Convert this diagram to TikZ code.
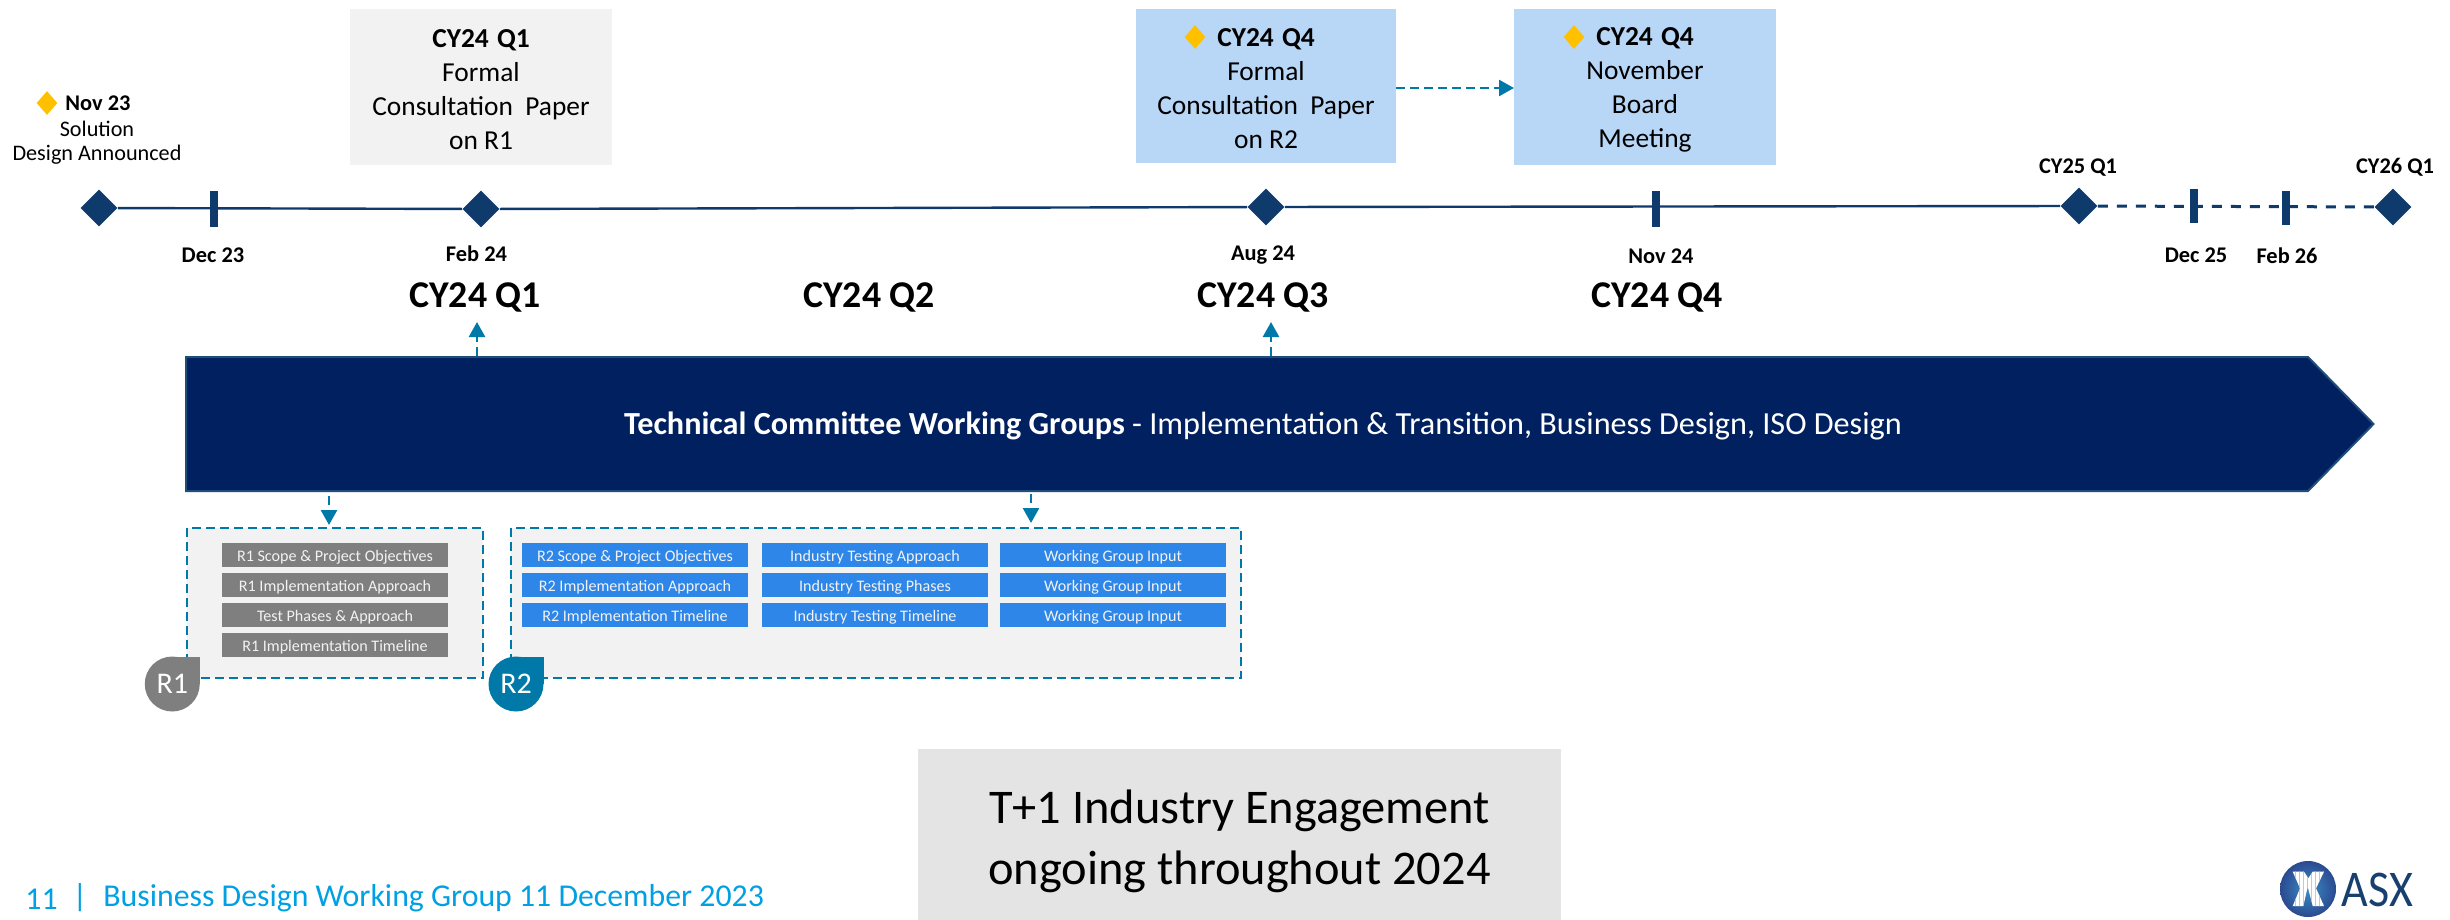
\documentclass[tikz,border=0pt]{standalone}
\usepackage{fontspec}
\setmainfont{Carlito}
\usetikzlibrary{arrows.meta,shapes.geometric}
\definecolor{navy}{HTML}{0F3A6C}
\definecolor{barblue}{HTML}{002060}
\definecolor{barline}{HTML}{1F4E79}
\definecolor{teal}{HTML}{0079A8}
\definecolor{gold}{HTML}{FFC000}
\definecolor{panel}{HTML}{F2F2F2}
\definecolor{lightblue}{HTML}{B8D6F6}
\definecolor{itemgrey}{HTML}{7F7F7F}
\definecolor{itemblue}{HTML}{2E86E8}
\definecolor{footblue}{HTML}{00A0E3}
\definecolor{engage}{HTML}{E4E4E4}
\definecolor{logotext}{HTML}{17406F}
\definecolor{logostripe}{HTML}{B5CBE8}
\definecolor{logoin}{HTML}{3B8CC4}
\definecolor{logoout}{HTML}{2B4A90}
\newcommand{\fs}[1]{\fontsize{#1}{#1}\selectfont}
\newcommand{\fsl}[2]{\fontsize{#1}{#2}\selectfont}
% \pxbox[style]{name}{x0}{y0}{x1}{y1}{text}
\newcommand{\pxbox}[7][]{%
  \pgfmathsetmacro{\pxcx}{(#3+#5)/2}%
  \pgfmathsetmacro{\pxcy}{(#4+#6)/2}%
  \pgfmathsetmacro{\pxw}{(#5-#3)*0.5}%
  \pgfmathsetmacro{\pxh}{(#6-#4)*0.5}%
  \node[#1,minimum width=\pxw pt,minimum height=\pxh pt] (#2) at (\pxcx,\pxcy) {#7};}
\newcommand{\firstline}[1]{\rule{0pt}{11.4pt}\textbf{#1}}
\tikzset{
  bigdiamond/.style={diamond,aspect=1,fill=navy,inner sep=0pt,minimum width=18.5pt,minimum height=18.5pt},
  golddiamond/.style={diamond,fill=gold,inner sep=0pt,shape aspect=0.875,minimum width=10.5pt,minimum height=12pt},
  tickmark/.style={fill=navy,inner sep=0pt},
  datelabel/.style={font=\bfseries\fs{11.2},inner sep=0pt,yshift=-0.7pt},
  quarterlabel/.style={font=\bfseries\fs{18.9},inner sep=0pt,yshift=-0.7pt},
  paperbox/.style={inner sep=0pt,align=center,font=\fsl{13.7}{17}},
  panelbox/.style={fill=panel,draw=teal,line width=1.25pt,dash pattern=on 4.5pt off 2.5pt,inner sep=0pt},
  itembox/.style={inner sep=0pt,text=panel,font=\fs{8.05},text height=7pt,text depth=0.8pt},
  greyitem/.style={itembox,fill=itemgrey},
  blueitem/.style={itembox,fill=itemblue},
  conn/.style={draw=teal,line width=1.25pt,dash pattern=on 4.5pt off 2.5pt,-{Triangle[length=7.5pt,width=8pt,fill=teal]}},
  dropbadge/.style={circle,inner sep=0pt,minimum size=27.5pt,text=white,font=\fs{15}},
}
\begin{document}
\begin{tikzpicture}[x=0.5pt,y=-0.5pt]
\useasboundingbox (0,0) rectangle (2450,920);

% timeline
\node[bigdiamond] (d1) at (99,208) {};
\node[bigdiamond] (d2) at (481,209) {};
\node[bigdiamond] (d3) at (1266,207) {};
\node[bigdiamond] (d4) at (2079,206) {};
\node[bigdiamond] (d5) at (2393,207) {};
\draw[navy,line width=1.2pt] (d1) -- (d2);
\draw[navy,line width=1.2pt] (d2) -- (d3);
\draw[navy,line width=1.2pt] (d3) -- (d4);
\draw[navy,line width=1.5pt,dash pattern=on 5pt off 4.5pt] (d4) -- (d5);
\pxbox[tickmark]{t1}{210}{191}{218}{227}{}
\pxbox[tickmark]{t2}{1652}{191}{1660}{227}{}
\pxbox[tickmark]{t3}{2190}{189}{2198}{223}{}
\pxbox[tickmark]{t4}{2282}{191}{2290}{225}{}

% date labels
\node[datelabel] (l1) at (213,254) {Dec 23};
\node[datelabel] (l2) at (476.5,252) {Feb 24};
\node[datelabel] (l3) at (1263,254) {Aug 24};
\node[datelabel] (l4) at (1661,255) {Nov 24};
\node[datelabel] (l5) at (2196,254) {Dec 25};
\node[datelabel] (l6) at (2287,254) {Feb 26};
\node[datelabel] (l7) at (2078,166) {CY25 Q1};
\node[datelabel] (l8) at (2395,166) {CY26 Q1};

% Nov 23
\node[golddiamond] (g0) at (47,103) {};
\node[datelabel,anchor=west,yshift=0.7pt] (n0) at (65,103) {Nov 23};
\node[inner sep=0pt,font=\fs{11.1}] (n1) at (97,129) {Solution};
\node[inner sep=0pt,font=\fs{11.1}] (n2) at (97,155) {Design Announced};

% quarter labels
\node[quarterlabel] (q1) at (475,296) {CY24 Q1};
\node[quarterlabel] (q2) at (869,296) {CY24 Q2};
\node[quarterlabel] (q3) at (1263,296) {CY24 Q3};
\node[quarterlabel] (q4) at (1657,296) {CY24 Q4};

% top boxes
\pxbox[paperbox,fill=panel]{b1}{350}{9}{612}{165}{\firstline{CY24\kern1pt\ Q1}\\Formal\\Consultation\ \ Paper\\on R1}
\pxbox[paperbox,fill=lightblue]{b2}{1136}{9}{1396}{163}{\firstline{CY24\kern1pt\ Q4}\\Formal\\Consultation\ \ Paper\\on R2}
\pxbox[paperbox,fill=lightblue]{b3}{1514}{9}{1776}{165}{\firstline{CY24\kern1pt\ Q4}\\November\\Board\\Meeting}
\node[golddiamond] (g1) at (1195,37) {};
\node[golddiamond] (g2) at (1574,37) {};
\coordinate (b2e) at (1396,88);
\coordinate (b3w) at (1514,88);
\draw[conn] (b2e) -- (b3w);

% main arrow
\draw[fill=barblue,draw=barline,line width=1pt] (186,357) -- (2308,357) -- (2373.5,424) -- (2308,491) -- (186,491) -- cycle;
\node[text=white,inner sep=0pt,font=\fs{16.1},yshift=-0.7pt] (bar) at (1263,425) {\textbf{Technical Committee Working Groups} - Implementation \& Transition, Business Design, ISO Design};

% panels
\pxbox[panelbox]{r1}{187}{528}{483}{678}{}
\pxbox[panelbox]{r2}{511}{528}{1241}{678}{}
\pxbox[greyitem]{a1}{222}{543}{448}{567}{R1 Scope \& Project Objectives}
\pxbox[greyitem]{a2}{222}{573}{448}{597}{R1 Implementation Approach}
\pxbox[greyitem]{a3}{222}{603}{448}{627}{Test Phases \& Approach}
\pxbox[greyitem]{a4}{222}{633}{448}{657}{R1 Implementation Timeline}
\pxbox[blueitem]{c1}{522}{543}{748}{567}{R2 Scope \& Project Objectives}
\pxbox[blueitem]{c2}{522}{573}{748}{597}{R2 Implementation Approach}
\pxbox[blueitem]{c3}{522}{603}{748}{627}{R2 Implementation Timeline}
\pxbox[blueitem]{e1}{762}{543}{988}{567}{Industry Testing Approach}
\pxbox[blueitem]{e2}{762}{573}{988}{597}{Industry Testing Phases}
\pxbox[blueitem]{e3}{762}{603}{988}{627}{Industry Testing Timeline}
\pxbox[blueitem]{f1}{1000}{543}{1226}{567}{Working Group Input}
\pxbox[blueitem]{f2}{1000}{573}{1226}{597}{Working Group Input}
\pxbox[blueitem]{f3}{1000}{603}{1226}{627}{Working Group Input}

% badges
\fill[itemgrey] (172,657) rectangle (200,684);
\node[dropbadge,fill=itemgrey] (br1) at (172.25,684) {R1};
\fill[teal] (516,657) rectangle (544,684);
\node[dropbadge,fill=teal] (br2) at (516,684) {R2};

% connectors
\coordinate (u1a) at (477,356); \coordinate (u1b) at (477,322);
\coordinate (u2a) at (1271,356); \coordinate (u2b) at (1271,322);
\coordinate (v1a) at (329,496); \coordinate (v1b) at (329,525);
\coordinate (v2a) at (1031,494); \coordinate (v2b) at (1031,523);
\draw[conn] (u1a) -- (u1b);
\draw[conn] (u2a) -- (u2b);
\draw[conn] (v1a) -- (v1b);
\draw[conn] (v2a) -- (v2b);

% engagement box
\pxbox[fill=engage,inner sep=0pt,align=center,font=\fsl{24.2}{30.4}]{eng}{918}{749}{1561}{920}{\rule{0pt}{23.5pt}T+1 Industry Engagement\\ongoing throughout 2024}

% footer
\node[anchor=west,inner sep=0pt,text=footblue,font=\fs{15.9},yshift=-0.5pt] (fn) at (25,898) {11};
\node[inner sep=0pt,text=footblue,font=\fs{15.9},yshift=-0.5pt] (fb) at (80,897) {|};
\node[anchor=west,inner sep=0pt,text=footblue,font=\fs{15.9},yshift=-0.5pt] (ft) at (103,897) {Business Design Working Group 11 December 2023};

% logo
\shade[inner color=logoin,outer color=logoout] (2308,889) circle [radius=14pt];
\begin{scope}
\clip (2292.7,871.7) -- (2304,871.7) -- (2308.3,878.3) -- (2312.7,871.7) -- (2324,871.7) -- (2316,888.3) -- (2324,906) -- (2312.7,906) -- (2307.7,886.7) -- (2303.3,906) -- (2292.7,906) -- (2300,888.3) -- cycle;
\fill[white] (2290,870) rectangle (2326,908);
\foreach \sx in {2295,2299,2303,2307,2311,2315,2319,2323}
  \draw[logostripe,line width=0.4pt] (\sx,870) -- (\sx,908);
\end{scope}
\node[inner sep=0pt,text=logotext,font=\fs{23},yscale=1.12] (asx) at (2377.5,889.5) {ASX};
\end{tikzpicture}
\end{document}
